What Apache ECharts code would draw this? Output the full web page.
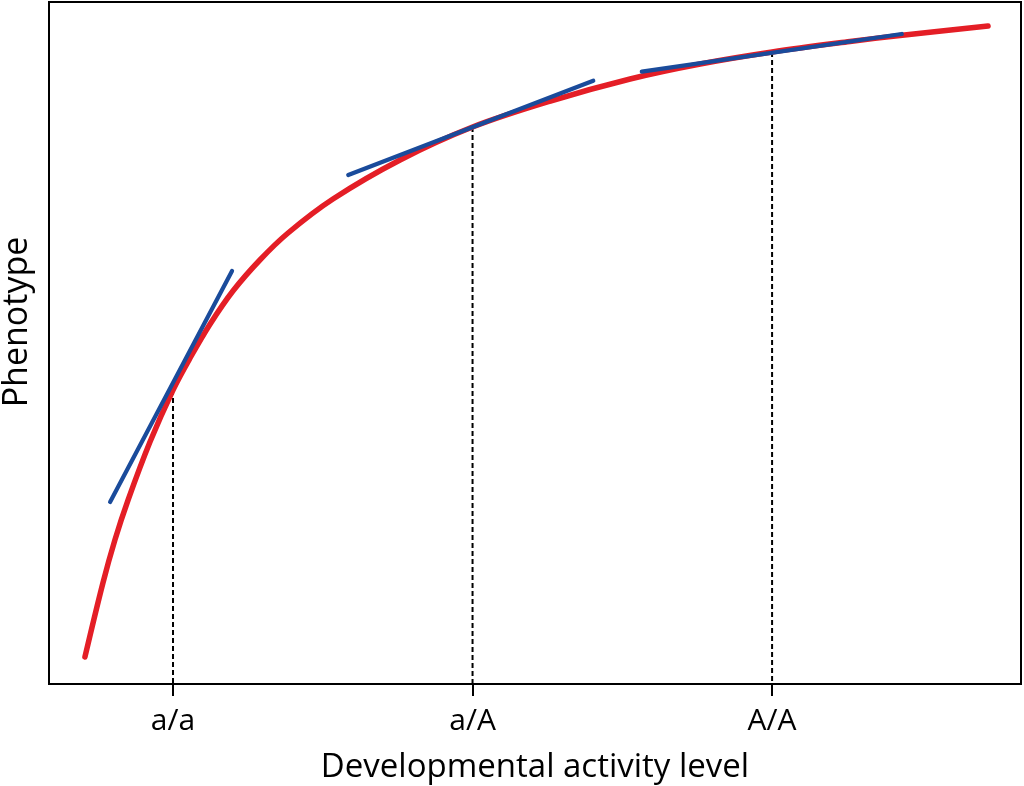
<!DOCTYPE html>
<html>
<head>
<meta charset="utf-8">
<script src="https://cdn.jsdelivr.net/npm/echarts@6/dist/echarts.min.js"></script>
<style>
html,body{margin:0;padding:0;background:#fff;}
#chart{width:1024px;height:786px;}
</style>
</head>
<body>
<div id="chart"></div>
<script>
// Genotype positions and tick labels
var genotypeX = [1, 2, 3];
var tickLabels = ['a/a', 'a/A', 'A/A'];

// Red response curve (developmental activity level -> phenotype)
var curveX = [0.706, 0.766, 0.806, 0.850, 0.923, 1.000, 1.057, 1.124, 1.200, 1.290, 1.384, 1.534, 1.758, 2.000, 2.260, 2.526, 2.760, 3.000, 3.260, 3.427, 3.721];
var curveY = [3.96, 14.81, 21.11, 26.98, 35.48, 43.11, 47.80, 52.79, 57.62, 62.17, 66.13, 71.11, 76.83, 81.67, 85.48, 88.71, 90.91, 92.67, 94.21, 95.09, 96.48];

// Blue tangent segments (start/end points)
var tangent1X = [0.790, 1.197];
var tangent1Y = [26.69, 60.56];
var tangent2X = [1.585, 2.403];
var tangent2Y = [74.63, 88.46];
var tangent3X = [2.565, 3.433];
var tangent3Y = [89.78, 95.31];

function pairs(xs, ys) { return xs.map(function (x, i) { return [x, ys[i]]; }); }
function curveAt(x) { var i = curveX.indexOf(x); return curveY[i]; }

var FONT = 'Open Sans';
var RED = '#e41e26';
var BLUE = '#1a4b9b';

var series = [];
genotypeX.forEach(function (gx) {
  series.push({
    type: 'line', data: [[gx, curveAt(gx)], [gx, 0]], symbol: 'none', silent: true,
    lineStyle: { color: '#000', width: 2, type: [5, 3] }, z: 1
  });
});
series.push({
  type: 'line', data: pairs(curveX, curveY), symbol: 'none', smooth: 0.35, silent: true,
  lineStyle: { color: RED, width: 5.5, cap: 'round', join: 'round' }, z: 2
});
[[tangent1X, tangent1Y], [tangent2X, tangent2Y], [tangent3X, tangent3Y]].forEach(function (t) {
  series.push({
    type: 'line', data: pairs(t[0], t[1]), symbol: 'none', silent: true,
    lineStyle: { color: BLUE, width: 4.2, cap: 'round' }, z: 3
  });
});

var chart = echarts.init(document.getElementById('chart'), null, { renderer: 'canvas' });
chart.setOption({
  animation: false,
  backgroundColor: '#fff',
  grid: { left: 49, right: 3, top: 2, bottom: 102, show: true, borderColor: '#000', borderWidth: 2, containLabel: false, outerBoundsMode: 'none' },
  xAxis: {
    type: 'value', min: 0.586, max: 3.831,
    name: 'Developmental activity level', nameLocation: 'middle', nameGap: 67,
    nameTextStyle: { fontFamily: FONT, fontSize: 33, color: '#000' },
    axisLine: { show: true, lineStyle: { color: '#000', width: 2 } },
    axisTick: { show: true, customValues: genotypeX, length: 12, lineStyle: { color: '#000', width: 2 } },
    axisLabel: {
      show: true, customValues: genotypeX, margin: 22,
      fontFamily: FONT, fontSize: 30, color: '#000',
      formatter: function (v) { var i = genotypeX.indexOf(v); return i >= 0 ? tickLabels[i] : ''; }
    },
    splitLine: { show: false }
  },
  yAxis: {
    type: 'value', min: 0, max: 100,
    name: 'Phenotype', nameLocation: 'middle', nameGap: 15,
    nameTextStyle: { fontFamily: FONT, fontSize: 34, color: '#000', padding: [0, 0, 0, 42] },
    axisLine: { show: true, lineStyle: { color: '#000', width: 2 } },
    axisTick: { show: false }, axisLabel: { show: false }, splitLine: { show: false }
  },
  series: series
});
</script>
</body>
</html>
